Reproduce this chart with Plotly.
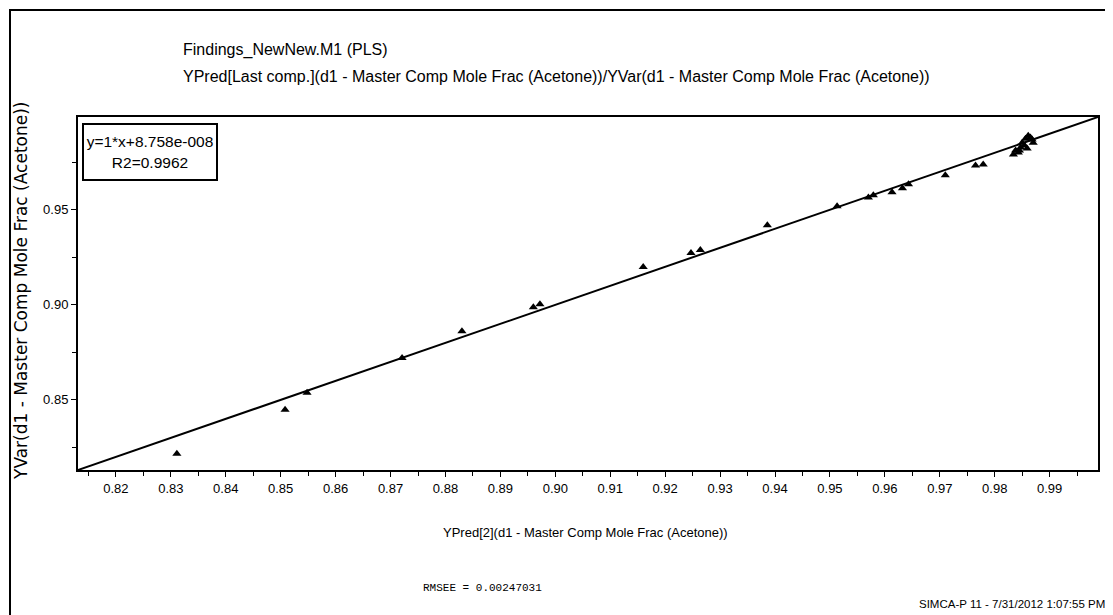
import plotly.graph_objects as go

# Data
ypred = [0.8311, 0.8508, 0.8548, 0.8721, 0.8830, 0.8960, 0.8972, 0.9160, 0.9247, 0.9264,
         0.9386, 0.9513, 0.9570, 0.9579, 0.9613, 0.9632, 0.9643, 0.9710, 0.9765, 0.9779,
         0.9834, 0.9843, 0.9838, 0.9847, 0.9850, 0.9856, 0.9861, 0.9865, 0.9868, 0.9854,
         0.9859, 0.9845, 0.9870]
yvar = [0.8217, 0.8448, 0.8537, 0.8720, 0.8861, 0.8987, 0.9003, 0.9199, 0.9272, 0.9288,
        0.9419, 0.9518, 0.9565, 0.9576, 0.9592, 0.9613, 0.9634, 0.9681, 0.9733, 0.9738,
        0.9791, 0.9801, 0.9812, 0.9827, 0.9853, 0.9874, 0.9890, 0.9880, 0.9869, 0.9838,
        0.9822, 0.9812, 0.9853]
slope = 1.0
intercept = 8.758e-08
axis_range = [0.8131, 0.9988]
x_ticks = [0.82, 0.83, 0.84, 0.85, 0.86, 0.87, 0.88, 0.89, 0.90, 0.91, 0.92, 0.93, 0.94,
           0.95, 0.96, 0.97, 0.98, 0.99]
y_ticks = [0.85, 0.90, 0.95]

NARROW = "Liberation Sans Narrow, Arial Narrow, Liberation Sans, Arial"

# page-pixel geometry of the plot area (browser body has an 8px margin)
PL, PR, PT, PB = 78, 1098, 117, 470
PW, PH = PR - PL, PB - PT


def px(xp):
    return (xp - PL) / PW


def py(yp):
    return 1 - (yp - PT) / PH


line_x = axis_range
line_y = [slope * v + intercept for v in line_x]

fig = go.Figure()
fig.add_trace(go.Scatter(x=line_x, y=line_y, mode="lines",
                         line=dict(color="black", width=2), showlegend=False))
fig.add_trace(go.Scatter(x=ypred, y=yvar, mode="markers",
                         marker=dict(symbol="triangle-up", size=8, color="black"),
                         showlegend=False))

axis_common = dict(
    range=axis_range, showgrid=False, zeroline=False, showline=True,
    linecolor="black", linewidth=2, mirror=True, ticks="outside", ticklen=5,
    tickcolor="black", tickwidth=1,
    tickfont=dict(family=NARROW, size=13, color="black"),
)
fig.update_xaxes(**axis_common, tickvals=x_ticks, ticktext=[f"{v:.2f}" for v in x_ticks],
                 minor=dict(dtick=0.005, ticks="outside", ticklen=4, tickcolor="black"))
fig.update_yaxes(**axis_common, tickvals=y_ticks, ticktext=[f"{v:.2f}" for v in y_ticks],
                 minor=dict(tick0=0.825, dtick=0.05, ticks="outside", ticklen=4, tickcolor="black"))

W, H = 1113 - 8, 615 - 8
fig.update_layout(
    width=W, height=H,
    margin=dict(l=PL - 8, r=W - (PR - 8), t=PT - 8, b=H - (PB - 8)),
    paper_bgcolor="white", plot_bgcolor="white",
    annotations=[
        dict(text="Findings_NewNew.M1 (PLS)",
             xref="paper", yref="paper", x=px(181), y=py(50),
             xanchor="left", yanchor="middle", showarrow=False,
             font=dict(family=NARROW, size=16, color="black")),
        dict(text="YPred[Last comp.](d1 - Master Comp Mole Frac (Acetone))/YVar(d1 - Master Comp Mole Frac (Acetone))",
             xref="paper", yref="paper", x=px(181), y=py(76),
             xanchor="left", yanchor="middle", showarrow=False,
             font=dict(family=NARROW, size=16, color="black")),
        dict(text="y=1*x+8.758e-008<br>R2=0.9962", xref="paper", yref="paper",
             x=px(82), y=py(123), xanchor="left", yanchor="top", showarrow=False,
             width=130, height=52, valign="middle",
             font=dict(family=NARROW, size=15.5, color="black"),
             bordercolor="black", borderwidth=2, borderpad=1, bgcolor="white"),
        dict(text="YVar(d1 - Master Comp Mole Frac (Acetone))", xref="paper", yref="paper",
             x=px(21), y=py(291), xanchor="center", yanchor="middle", textangle=-90,
             showarrow=False, font=dict(family="DejaVu Sans, Arial", size=17, color="black")),
        dict(text="YPred[2](d1 - Master Comp Mole Frac (Acetone))", xref="paper", yref="paper",
             x=px(585), y=py(532), xanchor="center", yanchor="middle",
             showarrow=False, font=dict(family=NARROW, size=13, color="black")),
        dict(text="RMSEE = 0.00247031", xref="paper", yref="paper",
             x=px(482), y=py(588), xanchor="center", yanchor="middle",
             showarrow=False, font=dict(family="Liberation Mono, Courier New, monospace", size=11, color="black")),
        dict(text="SIMCA-P 11 - 7/31/2012 1:07:55 PM", xref="paper", yref="paper",
             x=px(1107), y=py(604), xanchor="right", yanchor="middle",
             showarrow=False, font=dict(family=NARROW, size=11.5, color="black")),
    ],
    shapes=[
        dict(type="rect", xref="paper", yref="paper",
             x0=px(10), x1=px(1108), y0=py(640), y1=py(10),
             line=dict(color="black", width=2)),
    ],
)

fig.write_html("out.html")
